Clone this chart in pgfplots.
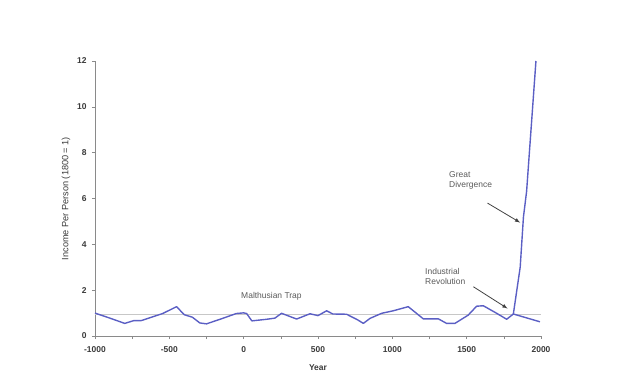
\documentclass[border=0pt]{standalone}
\usepackage{pgfplots}
\pgfplotsset{compat=1.18}
\usetikzlibrary{calc}
\usepackage{fontspec}
\setmainfont{Liberation Sans}
\definecolor{lineblue}{HTML}{5B5FC4}
\definecolor{axgray}{HTML}{8A8A8A}
\definecolor{txt}{HTML}{3A3A3A}
\definecolor{anno}{HTML}{5A5A5A}
\begin{document}
\begin{tikzpicture}
\begin{axis}[
  scale only axis,
  width=446bp, height=275bp,
  xmin=-1000, xmax=2000, ymin=0, ymax=12,
  axis lines=left,
  axis line style={axgray, line width=0.8pt, -},
  xtick={-1000,-500,0,500,1000,1500,2000},
  minor xtick={-750,-250,250,750,1250,1750},
  ytick={0,2,4,6,8,10,12},
  tick align=outside,
  major tick length=3bp, minor tick length=3bp,
  tick style={axgray, line width=0.6pt},
  every tick label/.append style={font=\fontsize{8.5}{10}\selectfont\bfseries, text=txt},
  x tick label style={yshift=-4bp},
  y tick label style={xshift=-2bp},
  /pgf/number format/assume math mode=true,
  /pgf/number format/set thousands separator={},
  xlabel={\textbf{Year}},
  ylabel={Income Per Person (1800 = 1)},
  xlabel style={font=\fontsize{8.5}{10}\selectfont, text=txt, yshift=-5bp},
  ylabel style={font=\fontsize{9.2}{10}\selectfont, text=txt, yshift=0bp},
  clip=false,
]
\addplot[color=black!22, line width=0.7pt] coordinates {(-1000,0.93) (2000,0.93)};
\addplot[color=lineblue, line width=1.4pt, line join=round] coordinates {
(-1000,1.0) (-900,0.78) (-800,0.55) (-740,0.67) (-690,0.67) (-545,0.98)
(-451,1.28) (-400,0.93) (-345,0.82) (-295,0.57) (-250,0.53) (-150,0.75)
(-50,0.98) (0,1.01) (20,0.98) (55,0.66) (155,0.73) (210,0.78) (255,0.99)
(356,0.74) (446,0.97) (500,0.89) (558,1.10) (600,0.96) (692,0.95)
(768,0.70) (805,0.55) (850,0.77) (928,0.99) (1006,1.10) (1107,1.28)
(1208,0.75) (1309,0.75) (1365,0.55) (1421,0.55) (1510,0.91) (1567,1.30)
(1612,1.32) (1702,0.99) (1769,0.73) (1814,0.96) (1993,0.62)
};
\addplot[color=lineblue, line width=1.4pt, line join=round] coordinates {
(1814,0.96) (1860,3.0) (1882,5.2) (1903,6.3) (1966,12.0)
};
\node[anchor=west, font=\fontsize{8.5}{10}\selectfont, text=anno] at (axis cs:-40,1.75) {Malthusian Trap};
\node[anchor=north west, align=left, font=\fontsize{8.5}{10.5}\selectfont, text=anno, inner sep=0pt] at (axis cs:1220,2.96) {Industrial\\Revolution};
\node[anchor=north west, align=left, font=\fontsize{8.5}{10.5}\selectfont, text=anno, inner sep=0pt] at (axis cs:1381,7.2) {Great\\Divergence};
\draw[-latex, black!75, line width=0.8pt] (axis cs:1545,2.15) -- (axis cs:1775,1.2);
\draw[-latex, black!75, line width=0.8pt] (axis cs:1640,5.8) -- (axis cs:1860,4.95);
\end{axis}
\path ($(current axis.south west)+(-95bp,-42bp)$) rectangle ($(current axis.north east)+(99bp,61bp)$);
\end{tikzpicture}
\end{document}
